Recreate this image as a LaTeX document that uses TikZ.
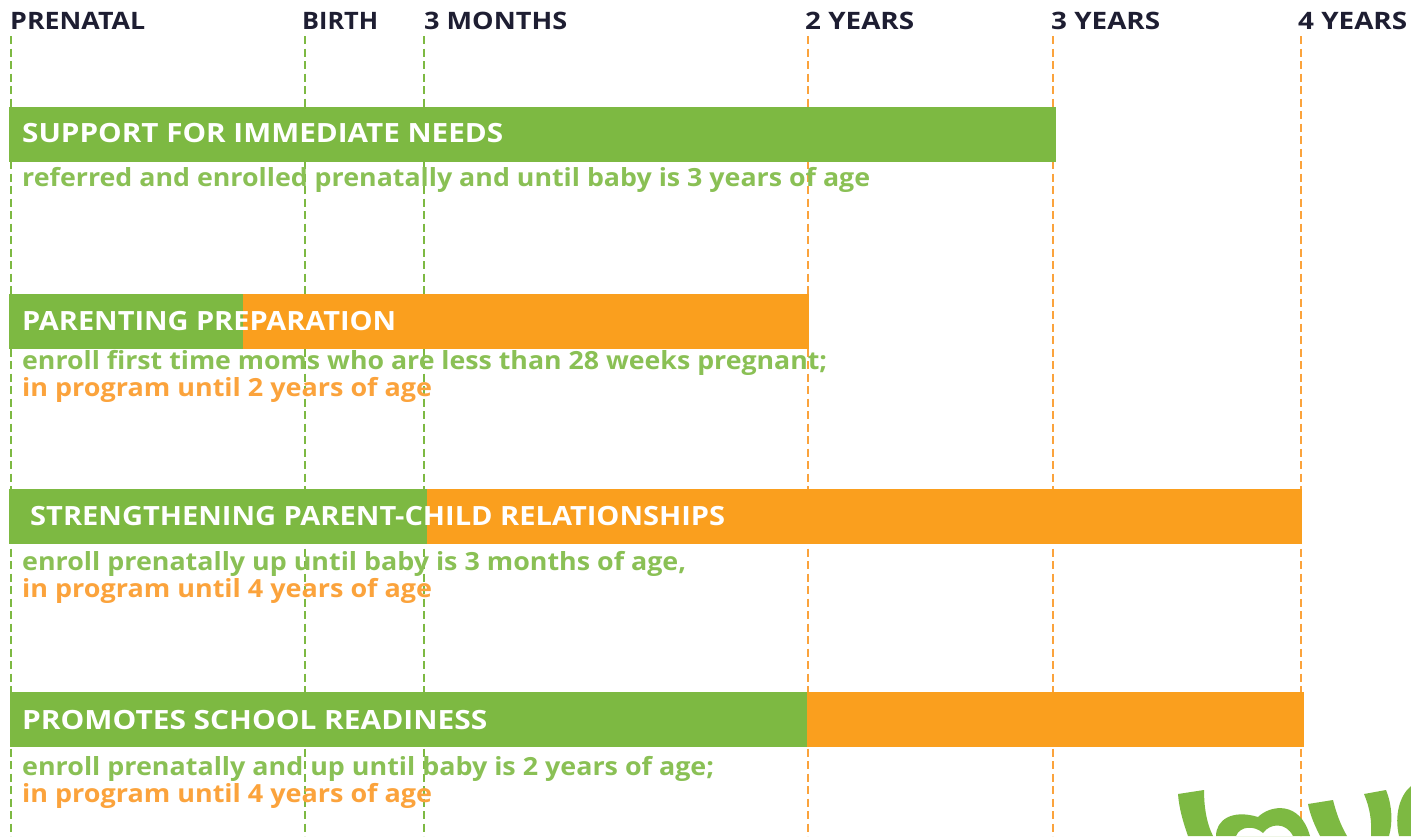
\documentclass[tikz,border=0pt]{standalone}
\usepackage{graphicx}
\usepackage{fontspec}
\setmainfont{Open Sans}[BoldFont={Open Sans Bold}]
\definecolor{lgreen}{HTML}{7DB942}
\definecolor{lorange}{HTML}{FA9F1E}
\definecolor{ldark}{HTML}{1E1E32}
\definecolor{ltorange}{HTML}{FBA33C}
\newcommand{\fitw}[2]{\resizebox{#1pt}{\height}{#2}}
\tikzset{
  guide/.style={line width=1.5pt,dash pattern=on 8pt off 4.5pt},
  gguide/.style={guide,draw=lgreen},
  oguide/.style={guide,draw=ltorange},
  hdr/.style={inner sep=0pt,anchor=base west,font=\fontsize{24}{24}\selectfont\bfseries,text=ldark},
  bar/.style={inner sep=0pt,anchor=base west,font=\fontsize{26.5}{26.5}\selectfont\bfseries,text=white},
  gt/.style={inner sep=0pt,anchor=base west,font=\fontsize{25}{25}\selectfont\bfseries,text=lgreen!90!white},
  ot/.style={inner sep=0pt,anchor=base west,font=\fontsize{25}{25}\selectfont\bfseries,text=ltorange},
}
\begin{document}
\begin{tikzpicture}[x=1pt,y=-1pt]
\useasboundingbox (0,0) rectangle (1411,836);
% headers
\node[hdr] (h0) at (10,29.5) {\fitw{135}{PRENATAL}};
\node[hdr] (h1) at (302,29.5) {\fitw{76}{BIRTH}};
\node[hdr] (h2) at (424,29.5) {\fitw{143}{3 MONTHS}};
\node[hdr] (h3) at (805,29.5) {\fitw{109}{2 YEARS}};
\node[hdr] (h4) at (1051,29.5) {\fitw{109}{3 YEARS}};
\node[hdr] (h5) at (1298,29.5) {\fitw{109}{4 YEARS}};
% guides
\foreach \n/\x/\s in {0/11/gguide,1/305/gguide,2/424/gguide,3/808/oguide,4/1053/oguide,5/1301/oguide}{
  \coordinate (t\n) at (\x,36);
  \coordinate (b\n) at (\x,836);
  \draw[\s] (t\n) -- (b\n);
}
% bars
\fill[lgreen] (9,107) rectangle (1056,162);
\fill[lorange] (243,294) rectangle (809,349);
\fill[lgreen] (9,294) rectangle (243,349);
\fill[lorange] (427,489) rectangle (1302,544);
\fill[lgreen] (9,489) rectangle (427,544);
\fill[lorange] (807,692) rectangle (1304,747);
\fill[lgreen] (10,692) rectangle (807,747);
% bar titles
\node[bar] (s1) at (22,142) {\fitw{481}{SUPPORT FOR IMMEDIATE NEEDS}};
\node[bar] (s2) at (22,330) {\fitw{374}{PARENTING PREPARATION}};
\node[bar] (s3) at (30,525) {\fitw{695}{STRENGTHENING PARENT-CHILD RELATIONSHIPS}};
\node[bar] (s4) at (22,729) {\fitw{465}{PROMOTES SCHOOL READINESS}};
% captions
\node[gt] (c1) at (22,186) {\fitw{848}{referred and enrolled prenatally and until baby is 3 years of age}};
\node[gt] (c2) at (22,369) {\fitw{805}{enroll first time moms who are less than 28 weeks pregnant;}};
\node[ot] (c2b) at (22,396) {\fitw{410}{in program until 2 years of age}};
\node[gt] (c3) at (22,570) {\fitw{664}{enroll prenatally up until baby is 3 months of age,}};
\node[ot] (c3b) at (22,597) {\fitw{410}{in program until 4 years of age}};
\node[gt] (c4) at (22,775) {\fitw{692}{enroll prenatally and up until baby is 2 years of age;}};
\node[ot] (c4b) at (22,802) {\fitw{410}{in program until 4 years of age}};
% logo
\fill[lgreen] (1178,794) -- (1204,790) .. controls (1204,805) and (1206,822) .. (1213,836) -- (1188,836) .. controls (1183,822) and (1179,808) .. (1178,794) -- cycle;
\fill[lgreen,even odd rule] (1216,836) .. controls (1216,820) and (1232,809) .. (1258,817) .. controls (1270,805) and (1300,800) .. (1310,836) -- cycle
 (1236,836) .. controls (1240,826) and (1254,825) .. (1263,833) .. controls (1270,823) and (1286,822) .. (1293,836) -- cycle;
\fill[lgreen] (1308,804) -- (1333,800) .. controls (1336,812) and (1340,824) .. (1347,836) -- (1320,836) .. controls (1315,826) and (1310,815) .. (1308,804) -- cycle;
\fill[lgreen] (1364,794) -- (1386,790) .. controls (1392,805) and (1393,822) .. (1389,836) -- (1371,836) .. controls (1372,822) and (1370,808) .. (1364,794) -- cycle;
\fill[lgreen] (1411,786) .. controls (1400,795) and (1394,815) .. (1399,836) -- (1411,836) -- cycle;
\end{tikzpicture}
\end{document}
